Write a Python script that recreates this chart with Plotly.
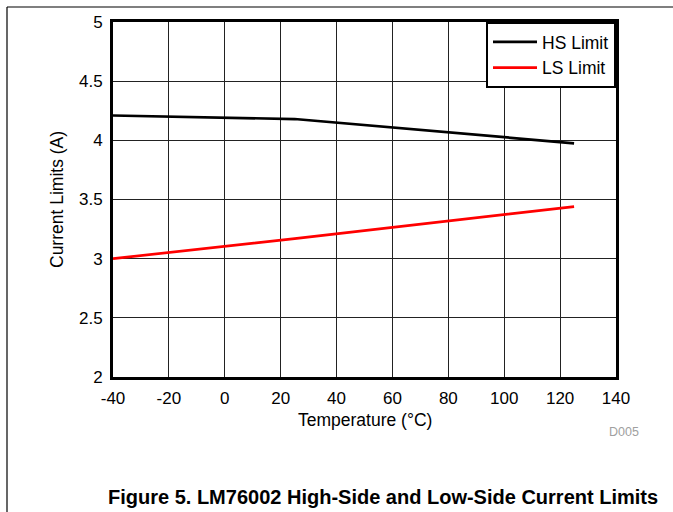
import plotly.graph_objects as go

# Data
temperature = [-40, 25, 125]
hs_limit = [4.21, 4.18, 3.975]
ls_limit = [3.00, 3.17, 3.44]
x_ticks = [-40, -20, 0, 20, 40, 60, 80, 100, 120, 140]
y_ticks = [2, 2.5, 3, 3.5, 4, 4.5, 5]

W, H = 673, 512
L, R, T, B = 113, 57, 22, 135
pw, ph = W - L - R, H - T - B

def px(x):
    return (x - L) / pw

def py(y):
    return (H - y - B) / ph

FONT = "Liberation Sans, Arial, sans-serif"

fig = go.Figure()
fig.add_trace(go.Scatter(x=temperature, y=hs_limit, mode="lines", name="HS Limit",
                         line=dict(color="black", width=2.7)))
fig.add_trace(go.Scatter(x=temperature, y=ls_limit, mode="lines", name="LS Limit",
                         line=dict(color="#ff0000", width=2.7)))

fig.update_layout(
    width=W, height=H,
    margin=dict(l=L, r=R, t=T, b=B, autoexpand=False),
    paper_bgcolor="white", plot_bgcolor="white",
    font=dict(family=FONT, size=17, color="black"),
    showlegend=True,
    legend=dict(x=1, y=1, xanchor="right", yanchor="top",
                bgcolor="white", bordercolor="black", borderwidth=2,
                font=dict(size=17.5), tracegroupgap=0, itemwidth=44),
    xaxis=dict(range=[-40, 140], tickvals=x_ticks, ticktext=[str(v) for v in x_ticks],
               showgrid=True, gridcolor="#222", gridwidth=1, zeroline=False,
               showline=True, linecolor="black", linewidth=3, mirror=True,
               ticks="", ticklabelstandoff=4, tickfont=dict(size=17), fixedrange=True),
    yaxis=dict(range=[2, 5], tickvals=y_ticks, ticktext=[f"{v:g}" for v in y_ticks],
               showgrid=True, gridcolor="#222", gridwidth=1, zeroline=False,
               showline=True, linecolor="black", linewidth=3, mirror=True,
               ticks="", ticklabelstandoff=4, tickfont=dict(size=17), fixedrange=True),
    shapes=[
        dict(type="line", xref="paper", yref="paper", x0=px(7), x1=px(W), y0=py(7), y1=py(7),
             line=dict(color="black", width=1.2)),
        dict(type="line", xref="paper", yref="paper", x0=px(7), x1=px(7), y0=py(7), y1=py(H),
             line=dict(color="black", width=1.2)),
    ],
    annotations=[
        dict(text="Current Limits (A)", xref="paper", yref="paper", x=px(57), y=py(200),
             showarrow=False, textangle=-90, xanchor="center", yanchor="middle",
             font=dict(size=17.5)),
        dict(text="Temperature (°C)", xref="paper", yref="paper", x=px(365), y=py(420),
             showarrow=False, xanchor="center", yanchor="middle", font=dict(size=17.5)),
        dict(text="D005", xref="paper", yref="paper", x=px(624), y=py(432),
             showarrow=False, xanchor="center", yanchor="middle",
             font=dict(size=12.5, color="#a0a0a0")),
        dict(text="<b>Figure 5. LM76002 High-Side and Low-Side Current Limits</b>",
             xref="paper", yref="paper", x=px(383), y=py(497),
             showarrow=False, xanchor="center", yanchor="middle", font=dict(size=20)),
    ],
)

fig.write_html("out.html", config={"displayModeBar": False},
               post_script="document.body.style.margin='0';document.body.style.overflow='hidden';")
